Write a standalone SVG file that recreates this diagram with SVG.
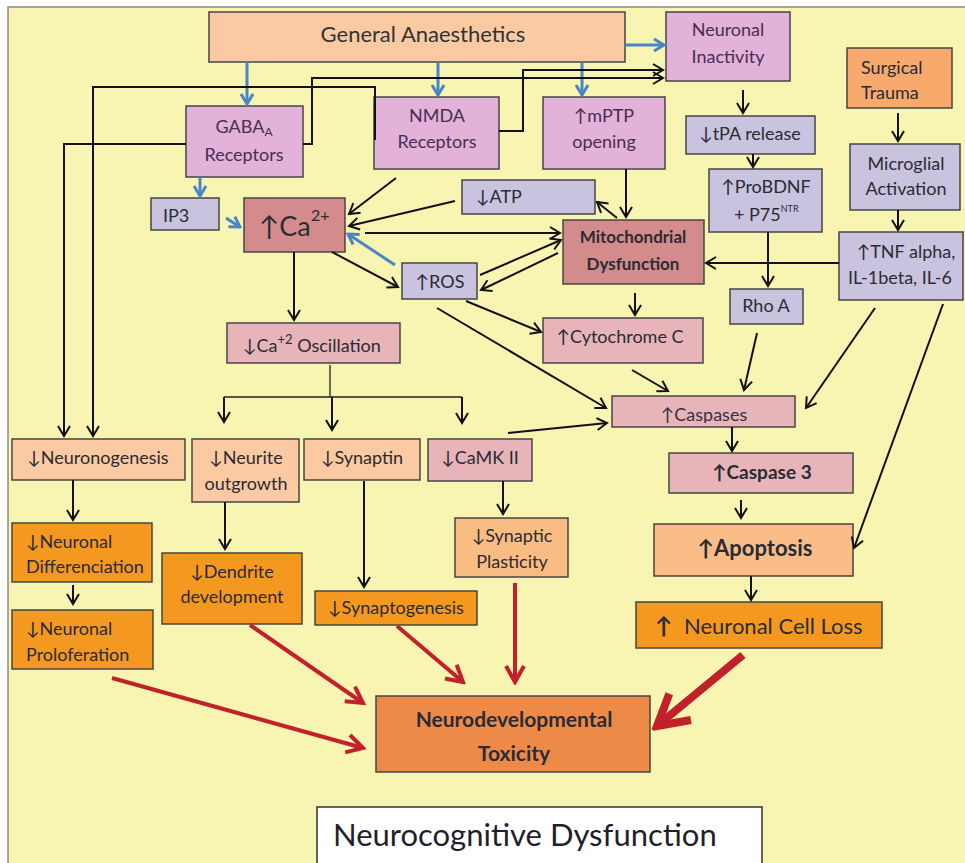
<svg xmlns="http://www.w3.org/2000/svg" width="965" height="863" viewBox="0 0 965 863">
<defs>
<style>
.b{stroke:#454545;stroke-width:1.5}
.peach{fill:#fbcaa2}.pink{fill:#e2b2d8}.lav{fill:#c9c3df}.rose{fill:#d48b8b}.lpink{fill:#e7b5b9}
.org{fill:#f5981f}.trauma{fill:#f8a96c}.apop{fill:#fabd88}.splas{fill:#f9bc82}.neuro{fill:#ee8a48}
text{font-family:Lato,"Liberation Sans",sans-serif;font-size:18px;fill:#2b2b33}
.c{text-anchor:middle}
.tp{fill:#4b2c57}
.bold{font-weight:bold}
.k{stroke:#111;stroke-width:2;fill:none;marker-end:url(#ak)}
.kt{stroke:#222;stroke-width:1.3;fill:none}
.bl{stroke:#4a86c6;stroke-width:3;fill:none;marker-end:url(#ab)}
.r{stroke:#c2202b;stroke-width:4;fill:none;marker-end:url(#ar)}
.rb{stroke:#c2202b;stroke-width:8;fill:none;marker-end:url(#arb)}
</style>
<marker id="ak" markerUnits="userSpaceOnUse" markerWidth="14" markerHeight="14" viewBox="0 0 14 14" refX="12" refY="7" orient="auto"><path d="M2,1 L12,7 L2,13" fill="none" stroke="#111" stroke-width="2"/></marker>
<marker id="ab" markerUnits="userSpaceOnUse" markerWidth="14" markerHeight="14" viewBox="0 0 14 14" refX="12" refY="7" orient="auto"><path d="M2,1 L12,7 L2,13" fill="none" stroke="#4a86c6" stroke-width="3"/></marker>
<marker id="ar" markerUnits="userSpaceOnUse" markerWidth="22" markerHeight="22" viewBox="0 0 22 22" refX="19" refY="11" orient="auto"><path d="M3,2 L19,11 L3,20" fill="none" stroke="#c2202b" stroke-width="4"/></marker>
<marker id="arb" markerUnits="userSpaceOnUse" markerWidth="44" markerHeight="44" viewBox="0 0 44 44" refX="38" refY="22" orient="auto"><path d="M8,5 L38,22 L8,39" fill="none" stroke="#c2202b" stroke-width="8"/></marker>
<clipPath id="casclip"><rect x="612" y="396" width="183" height="27"/></clipPath>
</defs>
<rect x="0" y="0" width="965" height="863" fill="#ffffff"/>
<rect x="8" y="7" width="970" height="870" fill="#f8f4b1" stroke="#8a8a80" stroke-width="1.5"/>

<g id="n-ga"><rect class="b peach" x="209" y="12" width="416" height="50"/><text class="c" x="423" y="42" style="font-size:22px;fill:#333">General Anaesthetics</text></g>
<g id="n-inact"><rect class="b pink" x="666" y="12" width="124" height="69"/><text class="c tp" x="728" y="36">Neuronal</text><text class="c tp" x="728" y="63">Inactivity</text></g>
<g id="n-trauma"><rect class="b trauma" x="847" y="48" width="105" height="60"/><text x="861" y="74">Surgical</text><text x="861" y="99">Trauma</text></g>
<g id="n-gaba"><rect class="b pink" x="186" y="106" width="117" height="71"/><text class="c tp" x="244" y="133">GABA<tspan style="font-size:12px" dy="3">A</tspan></text><text class="c tp" x="244" y="161">Receptors</text></g>
<g id="n-nmda"><rect class="b pink" x="374" y="97" width="125" height="72"/><text class="c tp" x="437" y="122">NMDA</text><text class="c tp" x="437" y="148">Receptors</text></g>
<g id="n-mptp"><rect class="b pink" x="543" y="97" width="122" height="72"/><text class="c tp" x="604" y="122">↑mPTP</text><text class="c tp" x="604" y="148">opening</text></g>
<g id="n-ip3"><rect class="b lav" x="151" y="198" width="68" height="32"/><text x="163" y="222">IP3</text></g>
<g id="n-ca"><rect class="b rose" x="244" y="198" width="101" height="54"/><text x="259" y="236" style="font-size:27px">↑Ca</text><text x="311" y="221" style="font-size:16px">2+</text></g>
<g id="n-atp"><rect class="b lav" x="462" y="180" width="133" height="34"/><text x="476" y="203">↓ATP</text></g>
<g id="n-mito"><rect class="b rose" x="563" y="220" width="141" height="64"/><text class="c bold" x="633" y="243" style="font-size:17px">Mitochondrial</text><text class="c bold" x="633" y="270" style="font-size:17px">Dysfunction</text></g>
<g id="n-tpa"><rect class="b lav" x="686" y="116" width="129" height="38"/><text class="c" x="750" y="140">↓tPA release</text></g>
<g id="n-probdnf"><rect class="b lav" x="709" y="169" width="113" height="63"/><text class="c" x="766" y="193">↑ProBDNF</text><text x="734" y="221">+ P75<tspan style="font-size:9px" dy="-9">NTR</tspan></text></g>
<g id="n-micro"><rect class="b lav" x="850" y="144" width="110" height="66"/><text class="c" x="906" y="170">Microglial</text><text class="c" x="906" y="195">Activation</text></g>
<g id="n-tnf"><rect class="b lav" x="839" y="232" width="124" height="68"/><text class="c" x="906" y="258">↑TNF alpha,</text><text class="c" x="900" y="284">IL-1beta, IL-6</text></g>
<g id="n-ros"><rect class="b lav" x="402" y="263" width="75" height="36"/><text class="c" x="440" y="288">↑ROS</text></g>
<g id="n-rhoa"><rect class="b lav" x="730" y="289" width="73" height="35"/><text class="c" x="766" y="312">Rho A</text></g>
<g id="n-cyto"><rect class="b lpink" x="543" y="318" width="160" height="45"/><text class="c" x="620" y="343">↑Cytochrome C</text></g>
<g id="n-caosc"><rect class="b lpink" x="227" y="323" width="173" height="40"/><text x="243" y="352">↓Ca<tspan style="font-size:13px" dy="-8">+2</tspan><tspan dy="8"> Oscillation</tspan></text></g>
<g id="n-casp"><rect class="b lpink" x="612" y="396" width="183" height="31"/><text class="c" x="704" y="421" clip-path="url(#casclip)" style="fill:#3a3040">↑Caspases</text></g>
<g id="n-casp3"><rect class="b lpink" x="669" y="453" width="184" height="40"/><text class="c bold" x="762" y="479" style="font-size:19px">↑Caspase 3</text></g>
<g id="n-apop"><rect class="b apop" x="654" y="524" width="199" height="52"/><text class="c bold" x="755" y="556" style="font-size:22px">↑Apoptosis</text></g>
<g id="n-loss"><rect class="b org" x="636" y="602" width="246" height="46"/><text x="655" y="634" class="bold" style="font-size:23px">↑</text><text x="684" y="634" style="font-size:22px">Neuronal Cell Loss</text></g>
<g id="n-ndt"><rect class="b neuro" x="376" y="696" width="274" height="76"/><text class="c bold" x="514" y="727" style="font-size:21px">Neurodevelopmental</text><text class="c bold" x="514" y="761" style="font-size:21px">Toxicity</text></g>
<g id="n-ncd"><rect x="317" y="807" width="445" height="80" fill="#ffffff" stroke="#333" stroke-width="1.5"/><text x="333" y="846" style="font-size:31px;fill:#1f1f2a">Neurocognitive Dysfunction</text></g>
<g id="n-neurono"><rect class="b peach" x="12" y="439" width="173" height="41"/><text class="c" x="98" y="464">↓Neuronogenesis</text></g>
<g id="n-neurite"><rect class="b peach" x="192" y="439" width="107" height="63"/><text class="c" x="246" y="464">↓Neurite</text><text class="c" x="246" y="490">outgrowth</text></g>
<g id="n-synaptin"><rect class="b peach" x="304" y="439" width="116" height="41"/><text class="c" x="362" y="464">↓Synaptin</text></g>
<g id="n-camk"><rect class="b lpink" x="428" y="439" width="104" height="42"/><text class="c" x="480" y="464">↓CaMK II</text></g>
<g id="n-splast"><rect class="b splas" x="455" y="518" width="113" height="59"/><text class="c" x="512" y="542">↓Synaptic</text><text class="c" x="512" y="568">Plasticity</text></g>
<g id="n-diff"><rect class="b org" x="12" y="523" width="140" height="59"/><text x="26" y="548">↓Neuronal</text><text x="26" y="573">Differenciation</text></g>
<g id="n-prolif"><rect class="b org" x="12" y="610" width="141" height="59"/><text x="26" y="635">↓Neuronal</text><text x="26" y="661">Proloferation</text></g>
<g id="n-dend"><rect class="b org" x="162" y="553" width="140" height="71"/><text class="c" x="232" y="578">↓Dendrite</text><text class="c" x="232" y="603">development</text></g>
<g id="n-synapto"><rect class="b org" x="315" y="591" width="162" height="34"/><text class="c" x="396" y="614">↓Synaptogenesis</text></g>

<g id="connectors">
<path class="bl" d="M247,62 V104"/>
<path class="bl" d="M438,62 V95"/>
<path class="bl" d="M582,62 V95"/>
<path class="bl" d="M625,45 H664"/>
<path class="bl" d="M200,177 V196"/>
<path class="bl" d="M226,218 L240,227"/>
<path class="bl" d="M395,265 L348,234"/>
<path class="k" d="M186,144 H64 V436"/>
<path class="k" d="M375,140 V87 H93 V436"/>
<path class="k" d="M303,144 H312 V78 H663"/>
<path class="k" d="M499,131 H523 V70 H663"/>
<path class="k" d="M396,178 L349,214"/>
<path class="k" d="M455,201 L349,226"/>
<path class="k" d="M365,233 H560"/>
<path class="k" d="M480,275 L561,240"/>
<path class="k" d="M558,253 L481,290"/>
<path class="k" d="M332,252 L398,287"/>
<path class="k" d="M626,169 V217"/>
<path class="k" d="M617,218 L597,202"/>
<path class="k" d="M743,90 V113"/>
<path class="k" d="M753,154 V167"/>
<path class="k" d="M898,113 V141"/>
<path class="k" d="M898,210 V230"/>
<path class="k" d="M839,263 H706"/>
<path class="k" d="M768,232 V286"/>
<path class="k" d="M635,293 V315"/>
<path class="k" d="M466,301 L541,332"/>
<path class="k" d="M437,308 L606,408"/>
<path class="k" d="M508,433 L607,423"/>
<path class="k" d="M632,370 L668,391"/>
<path class="k" d="M757,333 L744,390"/>
<path class="k" d="M875,308 L806,408"/>
<path class="k" d="M943,304 L854,548"/>
<path class="k" d="M732,427 V451"/>
<path class="k" d="M741,500 V518"/>
<path class="k" d="M751,576 V600"/>
<path class="k" d="M294,252 V320"/>
<path class="kt" d="M330,365 V397 M224,397 H462"/>
<path class="k" d="M224,397 V422"/>
<path class="k" d="M332,397 V430"/>
<path class="k" d="M462,397 V423"/>
<path class="k" d="M73,480 V520"/>
<path class="k" d="M225,502 V549"/>
<path class="k" d="M73,585 V604"/>
<path class="k" d="M364,481 V587"/>
<path class="k" d="M503,481 V514"/>
<path class="r" d="M112,678 L363,748"/>
<path class="r" d="M250,625 L363,703"/>
<path class="r" d="M397,626 L463,682"/>
<path class="r" d="M515,583 V682"/>
<path class="rb" d="M743,655 L657,726"/>
</g>
</svg>
